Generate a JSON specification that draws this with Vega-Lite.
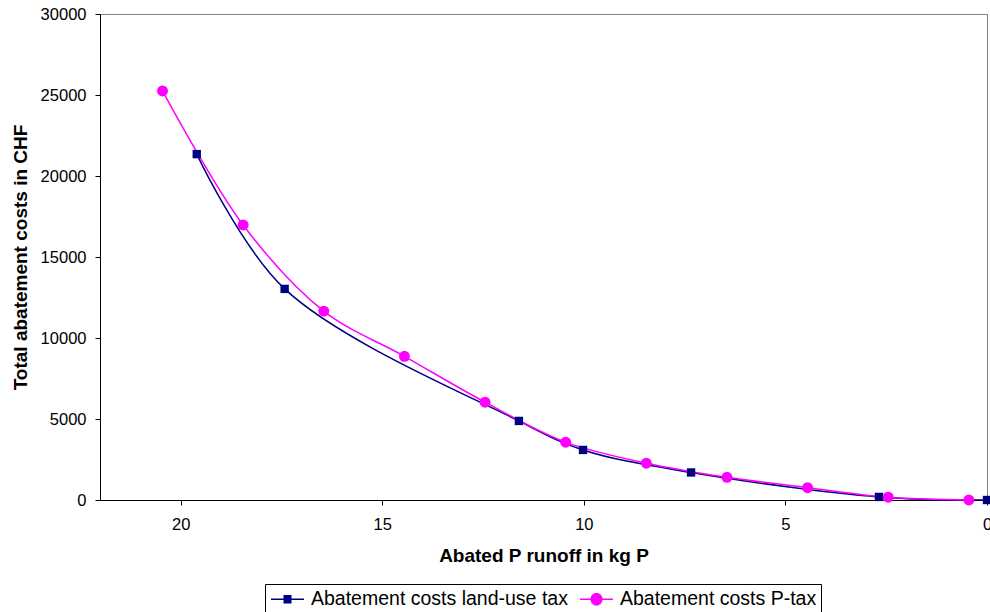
{
  "$schema": "https://vega.github.io/schema/vega-lite/v6.json",
  "width": 887,
  "height": 486,
  "autosize": "none",
  "padding": {"left": 100, "top": 14, "right": 3, "bottom": 112},
  "background": "white",
  "config": {
    "font": "Liberation Sans",
    "view": {"stroke": "#808080", "strokeWidth": 1},
    "axis": {"grid": false, "domainColor": "#000000", "tickColor": "#000000", "labelColor": "#000000", "titleColor": "#000000", "labelFont": "Liberation Sans", "titleFont": "Liberation Sans"}
  },
  "data": {
    "values": [
      {"series": "Abatement costs land-use tax", "runoff": 19.6, "cost": 21350},
      {"series": "Abatement costs land-use tax", "runoff": 17.42, "cost": 13030},
      {"series": "Abatement costs land-use tax", "runoff": 11.61, "cost": 4880},
      {"series": "Abatement costs land-use tax", "runoff": 10.02, "cost": 3090},
      {"series": "Abatement costs land-use tax", "runoff": 7.34, "cost": 1700},
      {"series": "Abatement costs land-use tax", "runoff": 2.68, "cost": 190},
      {"series": "Abatement costs land-use tax", "runoff": 0, "cost": 0},
      {"series": "Abatement costs P-tax", "runoff": 20.45, "cost": 25250},
      {"series": "Abatement costs P-tax", "runoff": 18.45, "cost": 16980},
      {"series": "Abatement costs P-tax", "runoff": 16.45, "cost": 11660},
      {"series": "Abatement costs P-tax", "runoff": 14.45, "cost": 8870},
      {"series": "Abatement costs P-tax", "runoff": 12.45, "cost": 6040},
      {"series": "Abatement costs P-tax", "runoff": 10.45, "cost": 3570},
      {"series": "Abatement costs P-tax", "runoff": 8.45, "cost": 2270},
      {"series": "Abatement costs P-tax", "runoff": 6.45, "cost": 1400},
      {"series": "Abatement costs P-tax", "runoff": 4.45, "cost": 760},
      {"series": "Abatement costs P-tax", "runoff": 2.45, "cost": 170},
      {"series": "Abatement costs P-tax", "runoff": 0.45, "cost": 0}
    ]
  },
  "encoding": {
    "x": {
      "field": "runoff", "type": "quantitative",
      "scale": {"domain": [0, 22], "reverse": true, "nice": false, "zero": false},
      "axis": {"values": [0, 5, 10, 15, 20], "format": "d", "title": "Abated P runoff in kg P", "titleFontSize": 19, "titleFontWeight": "bold", "titlePadding": 13, "labelFontSize": 16.5, "labelPadding": 11.5, "tickSize": 5, "labelFlush": false, "labelOverlap": false}
    },
    "y": {
      "field": "cost", "type": "quantitative",
      "scale": {"domain": [0, 30000], "nice": false},
      "axis": {"values": [0, 5000, 10000, 15000, 20000, 25000, 30000], "format": "d", "title": "Total abatement costs in CHF", "titleFontSize": 19, "titleFontWeight": "bold", "titlePadding": 10, "labelFontSize": 16.5, "labelPadding": 9, "tickSize": 5, "labelFlush": false}
    }
  },
  "layer": [
    {
      "transform": [{"filter": "datum.series === 'Abatement costs land-use tax'"}],
      "mark": {"type": "line", "interpolate": "catmull-rom", "strokeWidth": 1.5, "color": "#000080"},
      "encoding": {"order": {"field": "runoff", "type": "quantitative"}}
    },
    {
      "transform": [{"filter": "datum.series === 'Abatement costs P-tax'"}],
      "mark": {"type": "line", "interpolate": "catmull-rom", "strokeWidth": 1.5, "color": "#FF00FF"},
      "encoding": {"order": {"field": "runoff", "type": "quantitative"}}
    },
    {
      "transform": [{"filter": "datum.series === 'Abatement costs land-use tax'"}],
      "mark": {"type": "point", "shape": "square", "filled": true, "opacity": 1, "size": 70, "color": "#000080"}
    },
    {
      "transform": [{"filter": "datum.series === 'Abatement costs P-tax'"}],
      "mark": {"type": "point", "shape": "circle", "filled": true, "opacity": 1, "size": 120, "color": "#FF00FF"}
    },
    {
      "mark": {"type": "point", "filled": false, "opacity": 0, "strokeWidth": 1.5},
      "encoding": {
        "color": {
          "field": "series", "type": "nominal",
          "scale": {"domain": ["Abatement costs land-use tax", "Abatement costs P-tax"], "range": ["#000080", "#FF00FF"]},
          "legend": {"orient": "none", "direction": "horizontal", "legendX": 165, "legendY": 570, "title": null, "strokeColor": "#000000", "padding": 4, "fillColor": "white", "labelFontSize": 19.5, "labelFont": "Liberation Sans", "labelColor": "#000000", "labelLimit": 0, "symbolSize": 400, "symbolStrokeWidth": 1.5, "symbolOpacity": 1, "columnPadding": 9, "labelOffset": 20}
        },
        "shape": {
          "field": "series", "type": "nominal",
          "scale": {"domain": ["Abatement costs land-use tax", "Abatement costs P-tax"], "range": [
            "M-0.9,0H2.4M0.35,-0.35H1.15M0.35,-0.25H1.15M0.35,-0.15H1.15M0.35,-0.05H1.15M0.35,0.05H1.15M0.35,0.15H1.15M0.35,0.25H1.15M0.35,0.35H1.15",
            "M-0.9,0H2.4M0.51,-0.55H0.99M0.353,-0.45H1.147M0.263,-0.35H1.237M0.205,-0.25H1.295M0.169,-0.15H1.331M0.152,-0.05H1.348M0.152,0.05H1.348M0.169,0.15H1.331M0.205,0.25H1.295M0.263,0.35H1.237M0.353,0.45H1.147M0.51,0.55H0.99"
          ]},
          "legend": {"orient": "none", "direction": "horizontal", "legendX": 165, "legendY": 570, "title": null, "strokeColor": "#000000", "padding": 4, "fillColor": "white", "labelFontSize": 19.5, "labelFont": "Liberation Sans", "labelColor": "#000000", "labelLimit": 0, "symbolSize": 400, "symbolStrokeWidth": 1.5, "symbolOpacity": 1, "columnPadding": 9, "labelOffset": 20}
        }
      }
    }
  ]
}
